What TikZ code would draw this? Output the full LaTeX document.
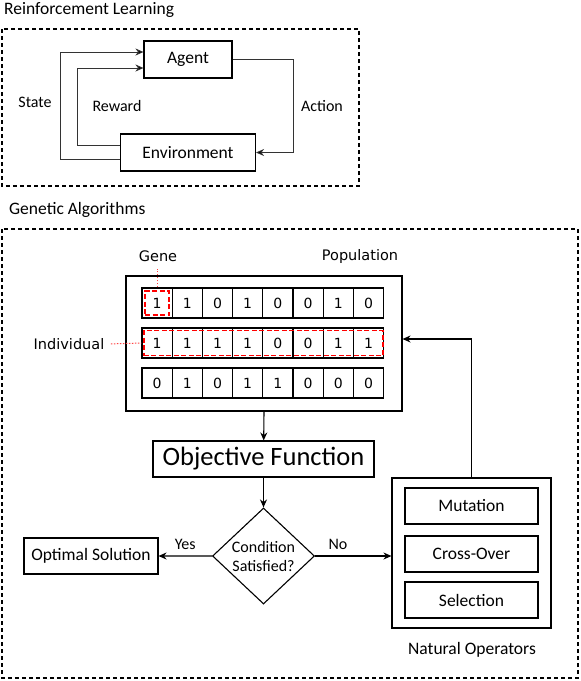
\documentclass[tikz,border=0pt]{standalone}
\usepackage{fontspec}
\setmainfont{Carlito}
\newfontfamily\bitfont{DejaVu Sans}
\usepackage{tikz}
\usetikzlibrary{shapes.geometric, arrows.meta}
\usepackage{xcolor}
\tikzstyle{block} = [rectangle, draw=black, line width=1.1pt, text centered,
inner sep=0pt, font=\fontsize{17.5}{21}\selectfont]
\tikzstyle{holder} = [rectangle, draw=black, line width=1.1pt]
\tikzstyle{frame} = [draw=black, line width=1.1pt, dash pattern=on 4pt off 3pt]
\tikzstyle{title} = [anchor=west, inner sep=0pt, font=\fontsize{17.5}{21}\selectfont]
\tikzstyle{txt} = [inner sep=1pt, font=\fontsize{16}{19}\selectfont]
\tikzstyle{bit} = [rectangle, draw=black, line width=1.1pt, minimum width=30.2pt,
minimum height=30pt, font=\bitfont\fontsize{14}{16}\selectfont]
\tikzstyle{genetag} = [font=\bitfont\fontsize{14.5}{17}\selectfont]
\tikzstyle{decision} = [diamond, draw=black, line width=1.1pt, minimum width=102pt,
minimum height=96pt, inner sep=0pt, align=center, font=\fontsize{16}{19}\selectfont]
\tikzstyle{redbox} = [draw=red, line width=1.4pt, dash pattern=on 5pt off 2.5pt]
\tikzstyle{pointer} = [draw=red!75, line width=1pt, dash pattern=on 1.5pt off 1.5pt]
\tikzstyle{arrow} = [line width=1.1pt,->,>={Stealth[length=8pt,width=7pt]}]
\tikzstyle{rlarrow} = [line width=0.8pt, draw=black!80, ->,
>={Stealth[length=8pt,width=7pt,fill=black]}]

\begin{document}
\begin{tikzpicture}[x=1pt, y=1pt]
  \useasboundingbox (0,0) rectangle (581,-681);
  % Reinforcement learning part
  \node (rltitle) [title] at (4,-10) {Reinforcement Learning};
  \draw [frame] (2,-29) rectangle (359,-186);
  \node (agent) [block, minimum width=88pt, minimum height=37pt] at (188,-59.5) {Agent};
  \node (env) [block, minimum width=135pt, minimum height=37pt, below of=agent,
               yshift=-64.55pt] {Environment};
  \node (state) [txt] at (35,-102) {State};
  \node (reward) [txt] at (117,-106) {Reward};
  \node (action) [txt] at (322,-106) {Action};
  \draw [rlarrow] ([yshift=-6.5pt]env.west) -- ++(-60,0) |- ([yshift=7.5pt]agent.west);
  \draw [rlarrow] ([yshift=7.5pt]env.west) -- ++(-43,0) |- ([yshift=-8.5pt]agent.west);
  \draw [rlarrow] (agent.east) -- ++(61,0) |- (env.east);
  % Genetic algorithms part
  \node (gatitle) [title] at (9,-210) {Genetic Algorithms};
  \draw [frame] (2,-229) rectangle (578,-678);
  \node (pop) [holder, minimum width=276pt, minimum height=135pt] at (264,-343.5) {};
  \foreach \bits [count=\r] in {{1,1,0,1,0,0,1,0},{1,1,1,1,0,0,1,1},{0,1,0,1,1,0,0,0}}
    \foreach \b [count=\c] in \bits
      \node (g\r\c) [bit] at (126.9+30.2*\c, -263-40*\r) {\b};
  \node (gene) [redbox, minimum size=24pt] at (g11) {};
  \node (indiv) [redbox, minimum width=239pt, minimum height=25pt] at (g24.east) {};
  \node (genelbl) [genetag] at (158,-256) {Gene};
  \node (poplbl) [genetag] at (360,-256) {Population};
  \node (indivlbl) [genetag] at (69,-344) {Individual};
  \draw [pointer, shorten >=4pt] (g11.north) -- (g11.north |- genelbl.south);
  \draw [pointer, shorten <=3pt] (indivlbl.east) -- (g21.west);
  \node (obj) [block, minimum width=221pt, minimum height=36pt,
               font=\fontsize{26.5}{30}\selectfont] at (263.5,-459) {Objective Function};
  \node (cond) [decision, below of=obj, yshift=-68.55pt] {Condition\\Satisfied?};
  \node (opt) [block, minimum width=134pt, minimum height=36pt] at (91,-556) {Optimal Solution};
  \node (natop) [holder, minimum width=159pt, minimum height=150pt] at (471.5,-553) {};
  \node (mut) [block, minimum width=133pt, minimum height=36pt] at (471.5,-506) {Mutation};
  \node (cross) [block, minimum width=133pt, minimum height=36pt, below of=mut,
                 yshift=-19.55pt] {Cross-Over};
  \node (sel) [block, minimum width=133pt, minimum height=36pt, below of=cross,
               yshift=-17.55pt] {Selection};
  \node (natlbl) [txt, font=\fontsize{17.5}{21}\selectfont] at (472,-650) {Natural Operators};
  % Connections
  \draw [arrow] (pop.south) -- (obj);
  \draw [arrow] (obj) -- (cond);
  \draw [arrow] (cond) -- (opt) node[txt, midway, above, yshift=5pt] {Yes};
  \draw [arrow] (cond) -- (cond -| natop.west) node[txt, pos=0.3, above, yshift=5pt] {No};
  \draw [arrow] (natop.north) |- ([yshift=4.5pt]pop.east);
\end{tikzpicture}
\end{document}
